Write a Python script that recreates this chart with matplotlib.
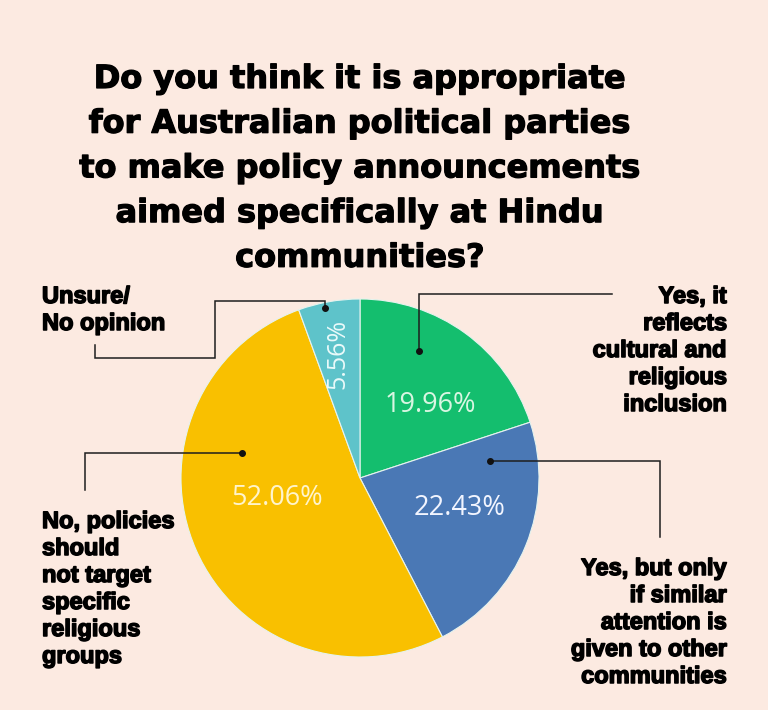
import matplotlib.pyplot as plt
import matplotlib.patheffects as pe

# survey answers, clockwise from 12 o'clock
answers = ['Yes, it reflects cultural and religious inclusion',
           'Yes, but only if similar attention is given to other communities',
           'No, policies should not target specific religious groups',
           'Unsure/ No opinion']
shares = [19.96, 22.43, 52.06, 5.56]
colors = ['#14BE6E', '#4A78B5', '#F9C000', '#5EC3CA']
pct_colors = ['#D9F6E2', '#F2F5FF', '#FFF4CC', '#EAFAFA']

title_lines = ['Do you think it is appropriate',
               'for Australian political parties',
               'to make policy announcements',
               'aimed specifically at Hindu',
               'communities?']

label_lines = [['Yes, it', 'reflects', 'cultural and', 'religious', 'inclusion'],
               ['Yes, but only', 'if similar', 'attention is', 'given to other', 'communities'],
               ['No, policies', 'should', 'not target', 'specific', 'religious', 'groups'],
               ['Unsure/', 'No opinion']]

bg = '#FCEAE1'
W, H = 768, 710


def Y(y):
    # picture rows run downwards, axes run upwards
    return H - y


fig = plt.figure(figsize=(W / 100, H / 100), dpi=100)
fig.patch.set_facecolor(bg)
ax = fig.add_axes([0, 0, 1, 1])
ax.set_facecolor(bg)

cx, cy, rad = 360, 478, 179
ax.pie(shares, colors=colors, startangle=90, counterclock=False,
       center=(cx, Y(cy)), radius=rad, frame=False,
       wedgeprops=dict(edgecolor='#E6F3EE', linewidth=0.8))
ax.set_xlim(0, W)
ax.set_ylim(0, H)
ax.set_aspect('auto')
ax.axis('off')

#%% percentage labels
pct_pos = [(430, 405), (460, 508), (277, 498), (338, 354)]
pct_rot = [0, 0, 0, 90]
pct_size = [19.5, 19.5, 19.5, 18]
for v, (px, py), rot, c, fs in zip(shares, pct_pos, pct_rot, pct_colors, pct_size):
    ax.text(px, Y(py), f'{v:.2f}%', ha='center', va='center', rotation=rot,
            fontsize=fs, color=c, family='Open Sans')

#%% title
heavy_title = [pe.withStroke(linewidth=0.9, foreground='black')]
for i, line in enumerate(title_lines):
    ax.text(360, Y(88 + i * 44.7), line, ha='center', va='baseline',
            fontsize=23, fontweight='bold', family='DejaVu Sans', color='black',
            path_effects=heavy_title)

#%% answer labels (x, first baseline, alignment)
label_anchor = [(727, 303, 'right'), (727, 575, 'right'), (42, 528, 'left'), (42, 303, 'left')]
dy = 27
heavy = [pe.withStroke(linewidth=1.1, foreground='black')]
for lines, (lx, ly, ha) in zip(label_lines, label_anchor):
    for i, line in enumerate(lines):
        ax.text(lx, Y(ly + i * dy), line, ha=ha, va='baseline',
                fontsize=17, fontweight='bold', family='Liberation Sans', color='black',
                path_effects=heavy)

#%% leader lines (start at the dot inside the slice)
leaders = [[(419, 351), (419, 294), (612, 294)],
           [(490, 461), (660, 461), (660, 537)],
           [(242, 453), (85, 453), (85, 490)],
           [(325, 308), (325, 301), (215, 301), (215, 358), (95, 358), (95, 345)]]
for path in leaders:
    xs = [p[0] for p in path]
    ys = [Y(p[1]) for p in path]
    ax.plot(xs, ys, color='#1E1E1E', lw=1.1, solid_joinstyle='miter')
    ax.plot(xs[0], ys[0], 'o', color='#111111', ms=4)

plt.savefig('out.png', dpi=100, facecolor=bg)
